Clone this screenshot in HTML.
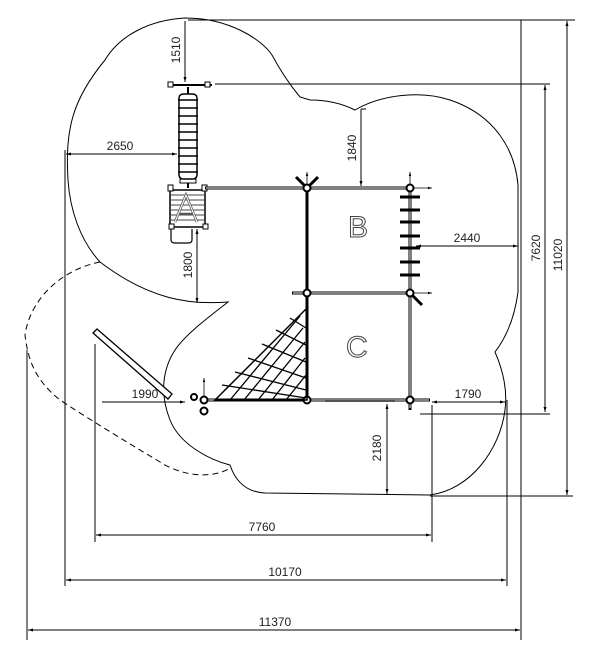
<!DOCTYPE html>
<html><head><meta charset="utf-8"><style>
html,body{margin:0;padding:0;background:#fff;}
svg{display:block;}
text{font-family:"Liberation Sans",sans-serif;font-size:12px;fill:#222;}
</style></head><body>
<svg width="600" height="655" viewBox="0 0 600 655" xmlns="http://www.w3.org/2000/svg">
<defs>
<marker id="ar" viewBox="0 0 10 10" refX="10" refY="5" markerWidth="7" markerHeight="5" orient="auto-start-reverse"><path d="M0,2 L10,5 L0,8 z" fill="#000"/></marker>
</defs>
<g fill="none" stroke="#000" stroke-width="1">
<!-- safety area outline -->
<path d="M228,302 C190,305 150,300 100,262 C80,240 70,210 68,180 C65,130 72,100 105,60 C120,35 150,20 185,18 C230,18 262,40 272,55 C280,70 290,85 300,97 L310,100 C330,100 345,105 355,110 C380,95 420,90 450,100 C495,115 515,150 518,185 L518,292 C515,315 508,335 495,352 C505,375 507,395 505,410 C500,450 470,490 430,495 L265,493 C245,492 235,480 230,465 C210,460 180,445 170,420 C160,395 162,370 175,350 C185,335 205,320 228,302 Z"/>
<path d="M100,262 C60,270 30,300 25,335 C28,360 35,380 60,400 C90,420 140,450 160,462 C185,478 215,478 230,468" stroke-dasharray="6,4"/>
<!-- dimension lines -->
<line x1="27" y1="350" x2="27" y2="640"/>
<line x1="521" y1="20" x2="521" y2="640"/>
<line x1="28" y1="630" x2="520" y2="630" marker-start="url(#ar)" marker-end="url(#ar)"/>
<line x1="65" y1="150" x2="65" y2="586"/>
<line x1="507" y1="400" x2="507" y2="586"/>
<line x1="66" y1="580" x2="506" y2="580" marker-start="url(#ar)" marker-end="url(#ar)"/>
<line x1="95" y1="344" x2="95" y2="542"/>
<line x1="432" y1="405" x2="432" y2="542"/>
<line x1="96" y1="535" x2="431" y2="535" marker-start="url(#ar)" marker-end="url(#ar)"/>
<line x1="188" y1="20" x2="575" y2="20"/>
<line x1="567" y1="21" x2="567" y2="495" marker-start="url(#ar)" marker-end="url(#ar)"/>
<line x1="430" y1="496" x2="573" y2="496"/>
<line x1="215" y1="84" x2="550" y2="84"/>
<line x1="545" y1="85" x2="545" y2="412" marker-start="url(#ar)" marker-end="url(#ar)"/>
<line x1="420" y1="414" x2="550" y2="414"/>
<line x1="185" y1="21" x2="185" y2="82" marker-end="url(#ar)"/>
<line x1="66" y1="154" x2="177" y2="154" marker-start="url(#ar)" marker-end="url(#ar)"/>
<line x1="361" y1="109" x2="361" y2="186" marker-end="url(#ar)"/>
<line x1="361" y1="109" x2="366" y2="109"/>
<line x1="416" y1="246" x2="518" y2="246" marker-start="url(#ar)" marker-end="url(#ar)"/>
<line x1="197" y1="229" x2="197" y2="303" marker-start="url(#ar)" marker-end="url(#ar)"/>
<line x1="102" y1="402" x2="185" y2="402" marker-end="url(#ar)"/>
<line x1="432" y1="402" x2="505" y2="402" marker-start="url(#ar)" marker-end="url(#ar)"/>
<line x1="387" y1="404" x2="387" y2="494" marker-start="url(#ar)" marker-end="url(#ar)"/>
</g>
<!-- structure -->
<g fill="none" stroke="#000">
<!-- top swing bar -->
<line x1="170" y1="85" x2="212" y2="85" stroke-width="2"/>
<rect x="168" y="82" width="5" height="5" fill="#fff"/><rect x="205" y="82" width="5" height="5" fill="#fff"/>
<line x1="188" y1="87" x2="188" y2="94" stroke-width="2"/>
<!-- ladder -->
<rect x="179" y="94" width="18" height="85" rx="4" stroke-width="1.5"/>
<g stroke-width="1.5">
<line x1="178" y1="100" x2="198" y2="100"/><line x1="178" y1="108" x2="198" y2="108"/><line x1="178" y1="116" x2="198" y2="116"/><line x1="178" y1="124" x2="198" y2="124"/><line x1="178" y1="132" x2="198" y2="132"/><line x1="178" y1="140" x2="198" y2="140"/><line x1="178" y1="148" x2="198" y2="148"/><line x1="178" y1="156" x2="198" y2="156"/><line x1="178" y1="164" x2="198" y2="164"/><line x1="178" y1="172" x2="198" y2="172"/>
</g>
<rect x="180" y="179" width="16" height="4" stroke-width="1"/>
<line x1="188" y1="183" x2="188" y2="188" stroke-width="2"/>
<!-- tower A -->
<rect x="170" y="190" width="35" height="37" stroke-width="1.5"/>
<g stroke-width="1" stroke="#444">
<line x1="171" y1="195" x2="204" y2="195"/><line x1="171" y1="200" x2="204" y2="200"/><line x1="171" y1="205" x2="204" y2="205"/><line x1="171" y1="210" x2="204" y2="210"/><line x1="171" y1="215" x2="204" y2="215"/><line x1="171" y1="220" x2="204" y2="220"/>
</g>
<path d="M175,222 L186,195 L197,222 M179,214 L193,214" stroke="#555" stroke-width="2.5"/>
<path d="M175,222 L186,195 L197,222" stroke="#fff" stroke-width="1"/>
<rect x="168" y="185" width="5" height="6" fill="#fff"/><rect x="202" y="185" width="5" height="6" fill="#fff"/>
<rect x="169" y="224" width="5" height="5" fill="#fff"/><rect x="203" y="224" width="5" height="5" fill="#fff"/>
<path d="M171,229 L171,240 Q171,243 175,243 L188,243 Q192,243 192,240 L192,229" stroke-width="1.2"/>
<!-- beams -->
<line x1="205" y1="188" x2="410" y2="188" stroke-width="3"/>
<line x1="206" y1="188" x2="409" y2="188" stroke="#fff" stroke-width="1"/>
<line x1="410" y1="188" x2="432" y2="188" stroke-width="0.8" marker-end="url(#ar)"/>
<line x1="410" y1="188" x2="410" y2="172" stroke-width="0.8" marker-end="url(#ar)"/>
<line x1="307" y1="188" x2="307" y2="172" stroke-width="0.8" marker-end="url(#ar)"/>
<line x1="307" y1="188" x2="296" y2="177" stroke-width="3"/><line x1="307" y1="188" x2="318" y2="177" stroke-width="3"/>
<line x1="307" y1="188" x2="307" y2="400" stroke-width="3"/>
<line x1="410" y1="188" x2="410" y2="410" stroke-width="3"/>
<line x1="410" y1="190" x2="410" y2="408" stroke="#fff" stroke-width="1"/>
<line x1="292" y1="293" x2="410" y2="293" stroke-width="3"/>
<line x1="293" y1="293" x2="409" y2="293" stroke="#fff" stroke-width="1"/>
<line x1="410" y1="293" x2="432" y2="293" stroke-width="0.8" marker-end="url(#ar)"/>
<line x1="410" y1="293" x2="422" y2="305" stroke-width="3"/>
<line x1="200" y1="400" x2="430" y2="400" stroke-width="3"/>
<line x1="201" y1="400" x2="429" y2="400" stroke="#fff" stroke-width="1"/>
<line x1="325" y1="401" x2="395" y2="401" stroke-width="2" stroke="#555"/>
<line x1="204" y1="400" x2="204" y2="378" stroke-width="0.8" marker-end="url(#ar)"/>
<!-- B side rungs -->
<g stroke-width="3">
<line x1="400" y1="197" x2="420" y2="197"/><line x1="400" y1="210" x2="420" y2="210"/><line x1="400" y1="222" x2="420" y2="222"/><line x1="400" y1="236" x2="420" y2="236"/><line x1="400" y1="248" x2="420" y2="248"/><line x1="400" y1="262" x2="420" y2="262"/><line x1="400" y1="275" x2="420" y2="275"/>
</g>
<!-- nodes -->
<g fill="#fff" stroke-width="2">
<circle cx="307" cy="188" r="3.5"/><circle cx="410" cy="188" r="3.5"/><circle cx="307" cy="293" r="3.5"/><circle cx="410" cy="293" r="3.5"/><circle cx="307" cy="400" r="3.5"/><circle cx="410" cy="400" r="3.5"/><circle cx="204" cy="400" r="3.5"/>
<circle cx="194" cy="397" r="3"/><circle cx="204" cy="411" r="3.5"/>
</g>
<!-- net -->
<path d="M215,400 L307,308 L307,400 Z" stroke-width="1.5"/>
<g stroke-width="1.3">
<line x1="230" y1="400" x2="300" y2="316"/><line x1="244" y1="400" x2="303" y2="328"/><line x1="258" y1="400" x2="305" y2="342"/><line x1="272" y1="400" x2="305" y2="358"/><line x1="286" y1="400" x2="306" y2="375"/>
<line x1="222" y1="385" x2="306" y2="398"/><line x1="235" y1="372" x2="306" y2="390"/><line x1="248" y1="358" x2="306" y2="378"/><line x1="262" y1="344" x2="306" y2="362"/><line x1="276" y1="330" x2="306" y2="345"/><line x1="290" y1="318" x2="306" y2="328"/>
</g>
<!-- slide -->
<path d="M93,333 L97,329 L172,394 L168,399 Z" stroke-width="1.3" fill="#fff"/>
</g>
<!-- letters -->
<g font-family="Liberation Sans,sans-serif" font-size="30" fill="none" stroke="#444" stroke-width="1">
<text x="348" y="237" style="fill:none;font-size:30px">B</text>
<text x="346" y="357" style="fill:none;font-size:30px">C</text>
</g>
<!-- dimension labels -->
<text x="275" y="626" text-anchor="middle">11370</text>
<text x="285" y="576" text-anchor="middle">10170</text>
<text x="262" y="531" text-anchor="middle">7760</text>
<text x="120" y="150" text-anchor="middle">2650</text>
<text x="467" y="242" text-anchor="middle">2440</text>
<text x="145" y="398" text-anchor="middle">1990</text>
<text x="468" y="398" text-anchor="middle">1790</text>
<text transform="translate(180,50) rotate(-90)" text-anchor="middle">1510</text>
<text transform="translate(356,148) rotate(-90)" text-anchor="middle">1840</text>
<text transform="translate(192,265) rotate(-90)" text-anchor="middle">1800</text>
<text transform="translate(381,448) rotate(-90)" text-anchor="middle">2180</text>
<text transform="translate(540,248) rotate(-90)" text-anchor="middle">7620</text>
<text transform="translate(562,255) rotate(-90)" text-anchor="middle">11020</text>
</svg>
</body></html>
